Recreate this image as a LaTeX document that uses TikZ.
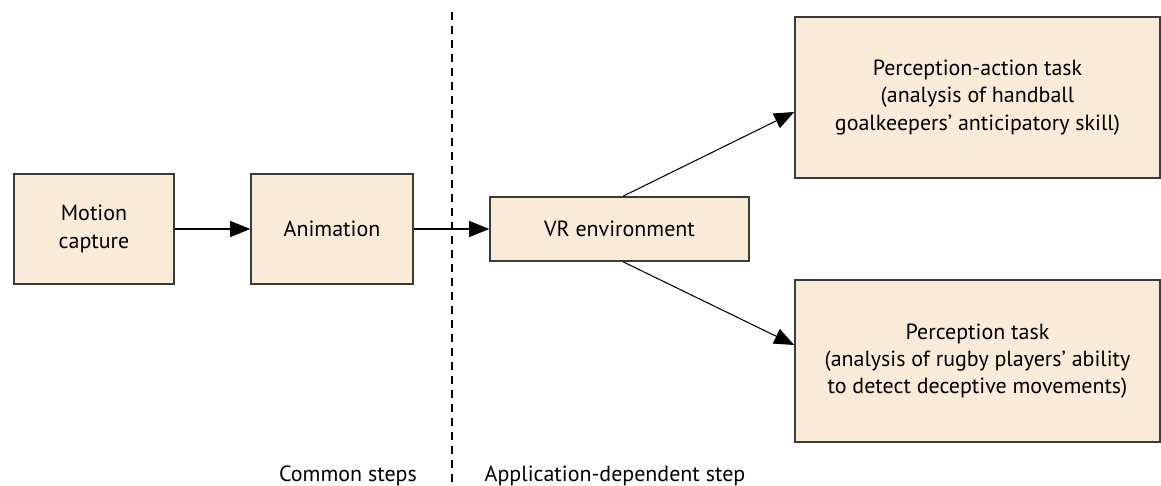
\documentclass[tikz,border=0pt]{standalone}
\usepackage{fontspec}
\setmainfont{PT Sans}
\usepackage{xcolor}
\usetikzlibrary{arrows.meta}
\definecolor{boxfill}{HTML}{F9EBD8}
\definecolor{boxline}{HTML}{3A3A3A}
\tikzstyle{box}=[fill=boxfill, draw=boxline, line width=0.9pt, shape=rectangle, align=center, inner sep=0pt, font=\fontsize{12.5}{15.5}\selectfont]
\tikzstyle{flow}=[draw=black, line width=0.6pt, -{Triangle[length=0.4cm, width=0.32cm]}]
\tikzstyle{label}=[font=\fontsize{12.5}{15.5}\selectfont, anchor=base]
\pgfdeclarelayer{nodelayer}
\pgfdeclarelayer{edgelayer}
\pgfsetlayers{nodelayer,edgelayer,main}

\begin{document}
\begin{tikzpicture}[x=0.02cm, y=-0.02cm]
	\useasboundingbox (0, 0) rectangle (1161, 486);
	\begin{pgfonlayer}{nodelayer}
		\node [style=box, minimum width=3.2cm, minimum height=2.2cm] (0) at (94, 229) {Motion\\capture};
		\node [style=box, minimum width=3.24cm, minimum height=2.2cm] (1) at (332, 229) {Animation};
		\node [style=box, minimum width=5.18cm, minimum height=1.28cm] (2) at (619.5, 229) {VR environment};
		\node [style=box, minimum width=7.3cm, minimum height=3.22cm] (3) at (977.5, 97.5) {Perception-action task\\(analysis of handball\\goalkeepers’ anticipatory skill)};
		\node [style=box, minimum width=7.3cm, minimum height=3.24cm] (4) at (977.5, 361) {Perception task\\(analysis of rugby players’ ability\\to detect deceptive movements)};
		\node [style=label] (5) at (348, 481) {Common steps};
		\node [style=label] (6) at (615, 481) {Application-dependent step};
		\coordinate (7) at (452, 12);
		\coordinate (8) at (452, 486);
	\end{pgfonlayer}
	\begin{pgfonlayer}{edgelayer}
		\draw [style=flow] (0) to (1);
		\draw [style=flow] (1) to (2);
		\draw [style=flow] ([xshift=0.07cm]2.north) to ([yshift=-0.29cm]3.west);
		\draw [style=flow] ([xshift=0.07cm]2.south) to ([yshift=0.32cm]4.west);
		\draw [line width=0.6pt, dash pattern=on 0.16cm off 0.12cm] (7) to (8);
	\end{pgfonlayer}
\end{tikzpicture}
\end{document}
